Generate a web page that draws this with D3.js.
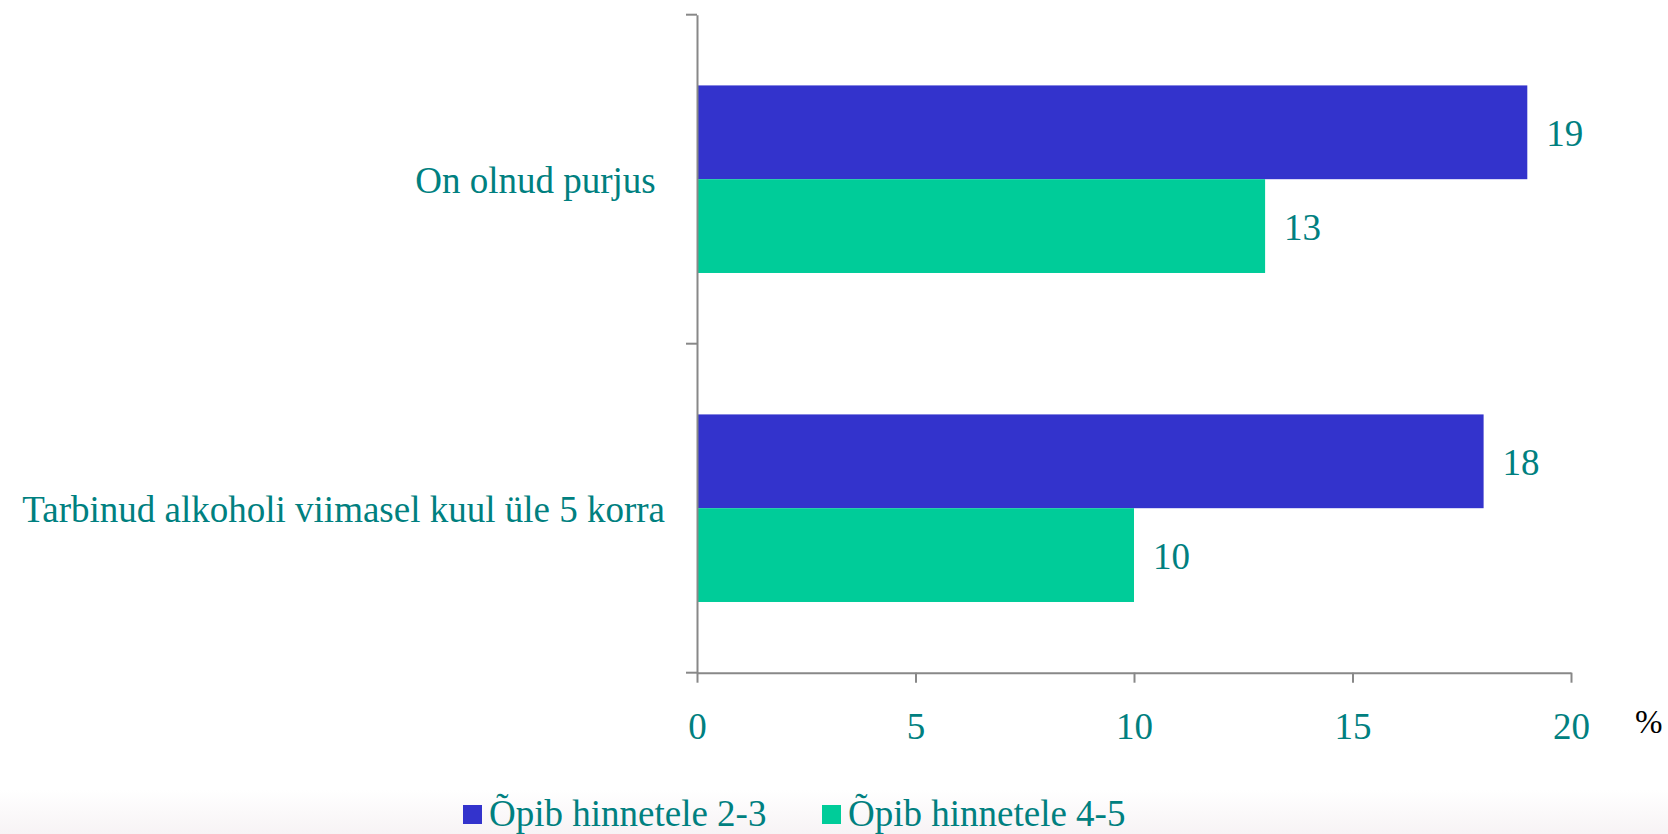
<!DOCTYPE html>
<html>
<head>
  <meta charset="utf-8">
  <script src="https://d3js.org/d3.v7.min.js"></script>
  <style>
  body {
    margin: 0;
    background: white;
  }
  text {
    font-family: "Liberation Serif", "Times New Roman", serif;
  }
  .axis path, .axis line {
    stroke: #888888;
    stroke-width: 2;
  }
  </style>
</head>
<body>
  <script type="text/javascript">
  "use strict";

  // chart values
  var categories = ['On olnud purjus ', 'Tarbinud alkoholi viimasel kuul üle 5 korra'];
  var series = ['Õpib hinnetele 2-3', 'Õpib hinnetele 4-5'];
  var values_23 = [19, 18];
  var values_45 = [13, 10];
  var x_ticks = [0, 5, 10, 15, 20];

  function draw() {
    var width = 1668,
        height = 834,
        plot_left = 697,
        plot_right = 1571,
        plot_top = 14.7,
        plot_bottom = 672.7,
        colour_1 = '#3333cc',
        colour_2 = '#00cc99',
        teal = '#008080';

    var data = categories.map(function(c, i) {
      return {cat: c, vals: [values_23[i], values_45[i]]};
    });

    var svg = d3.select('body')
                  .append('svg')
                    .attr('width', width)
                    .attr('height', height);

    // faint band at the very bottom
    var grad = svg.append('defs').append('linearGradient')
        .attr('id', 'fade').attr('x1', 0).attr('y1', 0).attr('x2', 0).attr('y2', 1);
    grad.append('stop').attr('offset', '0%').attr('stop-color', '#ffffff');
    grad.append('stop').attr('offset', '100%').attr('stop-color', '#f7f3f5');
    svg.append('rect')
      .attr('x', 0).attr('y', 790).attr('width', width).attr('height', 44)
      .attr('fill', 'url(#fade)');

    var x_scale = d3.scaleLinear().domain([0, 20]).range([plot_left, plot_right]);
    var y_scale = d3.scaleBand().domain(categories).range([plot_top, plot_bottom]);
    var y_inner = d3.scaleBand().domain(series)
                    .range([0, y_scale.bandwidth()])
                    .paddingOuter(0.754);

    // bars
    var groups = svg.selectAll('.cat')
      .data(data)
      .enter()
      .append('g')
        .attr('class', 'cat')
        .attr('transform', function(d) { return 'translate(0,' + y_scale(d.cat) + ')'; });

    function pairs(d) {
      return d.vals.map(function(v, j) { return {s: series[j], v: v, j: j}; });
    }

    groups.selectAll('rect')
      .data(pairs)
      .enter()
      .append('rect')
        .attr('x', x_scale(0))
        .attr('y', function(d) { return y_inner(d.s); })
        .attr('width', function(d) { return x_scale(d.v) - x_scale(0); })
        .attr('height', y_inner.bandwidth())
        .attr('fill', function(d) { return d.j === 0 ? colour_1 : colour_2; });

    groups.selectAll('.val')
      .data(pairs)
      .enter()
      .append('text')
        .attr('class', 'val')
        .attr('x', function(d) { return x_scale(d.v) + 19; })
        .attr('y', function(d) { return y_inner(d.s) + y_inner.bandwidth() / 2 + 14; })
        .attr('fill', teal)
        .style('font-size', '37px')
        .text(function(d) { return d.v; });

    // axes
    var x_axis = d3.axisBottom(x_scale).tickValues(x_ticks).tickSize(10).tickSizeOuter(0);
    var y_axis = d3.axisLeft(y_scale).tickSize(0).tickSizeOuter(0).tickFormat('');

    var gx = svg.append('g')
      .attr('class', 'x axis')
      .attr('transform', 'translate(0,' + plot_bottom + ')')
      .call(x_axis);
    gx.selectAll('text')
      .attr('fill', teal)
      .style('font-size', '37px')
      .attr('dy', 0)
      .attr('y', 66);

    var gy = svg.append('g')
      .attr('class', 'y axis')
      .attr('transform', 'translate(' + plot_left + ',0)')
      .call(y_axis);

    // category boundary ticks
    var bounds = [plot_top].concat(categories.map(function(c) { return y_scale(c) + y_scale.bandwidth(); }));
    gy.selectAll('.bound')
      .data(bounds)
      .enter()
      .append('line')
        .attr('class', 'bound')
        .attr('x1', -11).attr('x2', 0)
        .attr('y1', function(d) { return d; })
        .attr('y2', function(d) { return d; });

    // category labels
    svg.selectAll('.catlabel')
      .data(categories)
      .enter()
      .append('text')
        .attr('class', 'catlabel')
        .attr('x', 665)
        .attr('y', function(d) { return y_scale(d) + y_scale.bandwidth() / 2 + 13.5; })
        .attr('text-anchor', 'end')
        .attr('fill', teal)
        .style('font-size', '37px')
        .style('white-space', 'pre')
        .text(function(d) { return d; });

    svg.append('text')
      .attr('x', 1635)
      .attr('y', 733)
      .attr('fill', 'black')
      .style('font-size', '33px')
      .text('%');

    // legend
    var legend_x = [463, 822];
    var leg = svg.selectAll('.legend')
      .data(series)
      .enter()
      .append('g')
        .attr('class', 'legend')
        .attr('transform', function(d, i) { return 'translate(' + legend_x[i] + ',805)'; });
    leg.append('rect')
      .attr('width', 19).attr('height', 19)
      .attr('fill', function(d, i) { return i === 0 ? colour_1 : colour_2; });
    leg.append('text')
      .attr('x', 26)
      .attr('y', 21)
      .attr('fill', teal)
      .style('font-size', '37px')
      .text(function(d) { return d; });
  }

  draw();
  </script>
</body>
</html>
